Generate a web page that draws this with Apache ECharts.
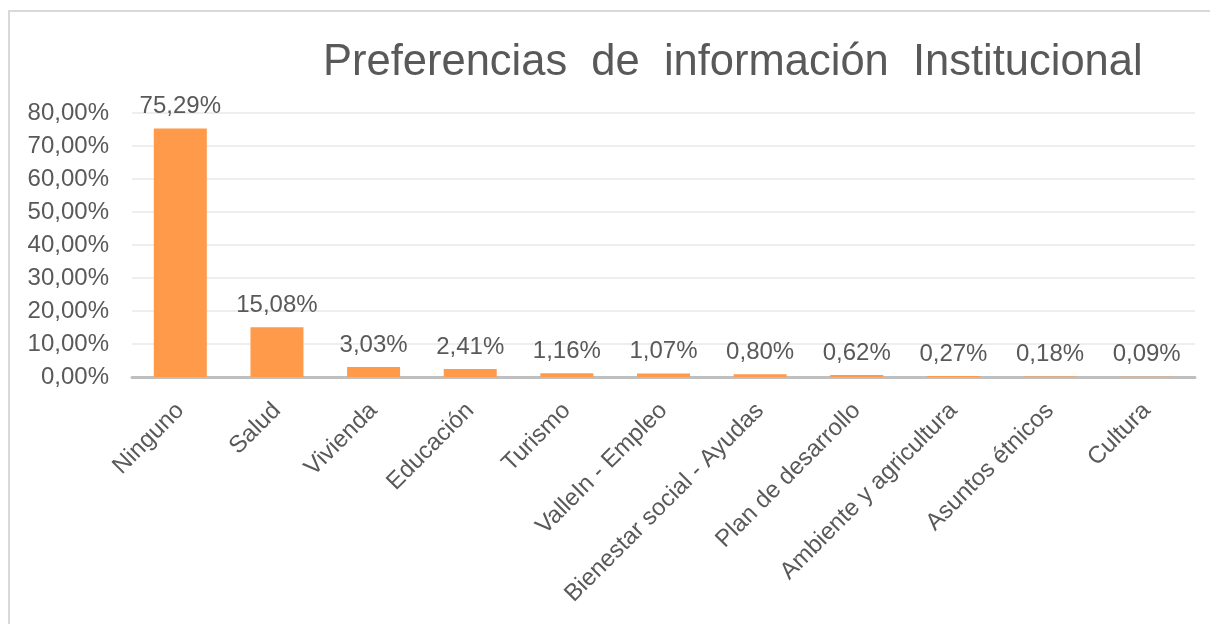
<!DOCTYPE html>
<html>
<head>
<meta charset="utf-8">
<script src="https://cdn.jsdelivr.net/npm/echarts@6/dist/echarts.min.js"></script>
<style>
  html, body { margin: 0; padding: 0; background: #ffffff; overflow: hidden; }
  #frame { position: absolute; left: 8px; top: 10px; width: 1300px; height: 700px; border: 2px solid #D9D9D9; box-sizing: border-box; }
  #chart { position: absolute; left: 0; top: 0; width: 1210px; height: 624px; }
</style>
</head>
<body>
<div id="frame"></div>
<div id="chart"></div>
<script>
const titleText = 'Preferencias  de  información  Institucional';
const categories = ['Ninguno', 'Salud', 'Vivienda', 'Educación', 'Turismo', 'ValleIn - Empleo',
  'Bienestar social - Ayudas', 'Plan de desarrollo', 'Ambiente y agricultura', 'Asuntos étnicos', 'Cultura'];
const values = [75.29, 15.08, 3.03, 2.41, 1.16, 1.07, 0.80, 0.62, 0.27, 0.18, 0.09];
const yTicks = { min: 0, max: 80, interval: 10 };

const fmt = v => v.toFixed(2).replace('.', ',') + '%';
const FONT = '"Liberation Sans", Arial, sans-serif';
const TXT = '#595959';

const chart = echarts.init(document.getElementById('chart'), null, { renderer: 'canvas' });
chart.setOption({
  animation: false,
  backgroundColor: 'transparent',
  title: {
    text: titleText,
    left: 323,
    top: 41,
    padding: 0,
    textStyle: { fontFamily: FONT, fontSize: 43.5, fontWeight: 'normal', color: TXT }
  },
  grid: { left: 132, right: 15, top: 113, bottom: 247, containLabel: false },
  xAxis: {
    type: 'category',
    data: categories,
    axisLine: { lineStyle: { color: '#BFBFBF', width: 3 } },
    axisTick: { show: false },
    axisLabel: {
      interval: 0,
      rotate: 45,
      margin: 30,
      fontFamily: FONT,
      fontSize: 24,
      color: TXT
    }
  },
  yAxis: {
    type: 'value',
    min: yTicks.min,
    max: yTicks.max,
    interval: yTicks.interval,
    axisLine: { show: false },
    axisTick: { show: false },
    splitLine: { lineStyle: { color: '#EEEEEE', width: 2 } },
    axisLabel: {
      margin: 23,
      fontFamily: FONT,
      fontSize: 24,
      color: TXT,
      formatter: fmt
    }
  },
  series: [{
    type: 'bar',
    data: values,
    barWidth: 53,
    itemStyle: { color: '#FF9A4B' },
    label: {
      show: true,
      position: 'top',
      distance: 10,
      fontFamily: FONT,
      fontSize: 24,
      color: TXT,
      formatter: p => fmt(p.value)
    }
  }]
});
</script>
</body>
</html>
